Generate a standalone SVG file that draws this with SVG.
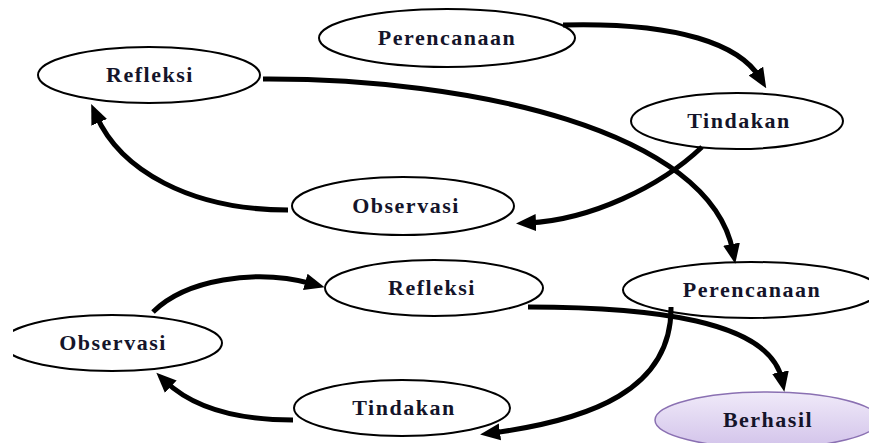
<svg xmlns="http://www.w3.org/2000/svg" width="869" height="443" viewBox="0 0 869 443">
  <style>
    .node ellipse { fill: #ffffff; stroke: #000000; stroke-width: 2; }
    .node text { font-family: "Liberation Serif", "Times New Roman", serif; font-weight: bold; font-size: 22px; letter-spacing: 1.5px; fill: #14142a; text-anchor: middle; }
    #connectors path { fill: none; stroke: #000000; stroke-width: 5; marker-end: url(#arrow); }
    #berhasil ellipse { fill: url(#lav); stroke: #8a70b2; stroke-width: 1.5; }
  </style>
  <defs>
    <marker id="arrow" viewBox="0 0 20 18" markerWidth="20" markerHeight="18" refX="8" refY="9" orient="auto" markerUnits="userSpaceOnUse">
      <path d="M0,0.5 L20,9 L0,17.5 z" fill="#000000"/>
    </marker>
    <linearGradient id="lav" x1="0" y1="0" x2="0" y2="1">
      <stop offset="0" stop-color="#f0eaf9"/>
      <stop offset="1" stop-color="#d2c3ea"/>
    </linearGradient>
    <clipPath id="leftclip">
      <rect x="13" y="0" width="856" height="443"/>
    </clipPath>
  </defs>
  <rect width="869" height="443" fill="#ffffff"/>

  <g id="perencanaan1" class="node">
    <ellipse cx="447" cy="38" rx="128" ry="29"/>
    <text x="447" y="45">Perencanaan</text>
  </g>
  <g id="tindakan1" class="node">
    <ellipse cx="737" cy="121" rx="106" ry="28"/>
    <text x="739" y="128">Tindakan</text>
  </g>
  <g id="refleksi1" class="node">
    <ellipse cx="149" cy="75" rx="111" ry="28"/>
    <text x="150" y="82">Refleksi</text>
  </g>
  <g id="observasi1" class="node">
    <ellipse cx="403" cy="206" rx="111" ry="29"/>
    <text x="406" y="213">Observasi</text>
  </g>
  <g id="perencanaan2" class="node">
    <ellipse cx="751" cy="290" rx="128" ry="28"/>
    <text x="752" y="297">Perencanaan</text>
  </g>
  <g id="refleksi2" class="node">
    <ellipse cx="434" cy="288" rx="109" ry="28"/>
    <text x="432" y="295">Refleksi</text>
  </g>
  <g id="observasi2" class="node" clip-path="url(#leftclip)">
    <ellipse cx="112" cy="343" rx="110" ry="28"/>
    <text x="113" y="350">Observasi</text>
  </g>
  <g id="tindakan2" class="node">
    <ellipse cx="402" cy="408" rx="108" ry="28"/>
    <text x="404" y="415">Tindakan</text>
  </g>
  <g id="berhasil" class="node">
    <ellipse cx="767" cy="420" rx="112" ry="28"/>
    <text x="768" y="427">Berhasil</text>
  </g>

  <g id="connectors">
    <path d="M563,25 C680,22 740,45 760,78"/>
    <path d="M263,79 C470,78 710,130 733,252"/>
    <path d="M702,147 C660,187 590,220 528,223"/>
    <path d="M288,210 C190,210 120,170 96,115"/>
    <path d="M153,312 C185,280 255,268 313,284"/>
    <path d="M293,420 C230,420 190,405 165,381"/>
    <path d="M671,307 C672,390 590,420 492,433"/>
    <path d="M528,307 C650,307 770,320 782,380"/>
  </g>
</svg>
